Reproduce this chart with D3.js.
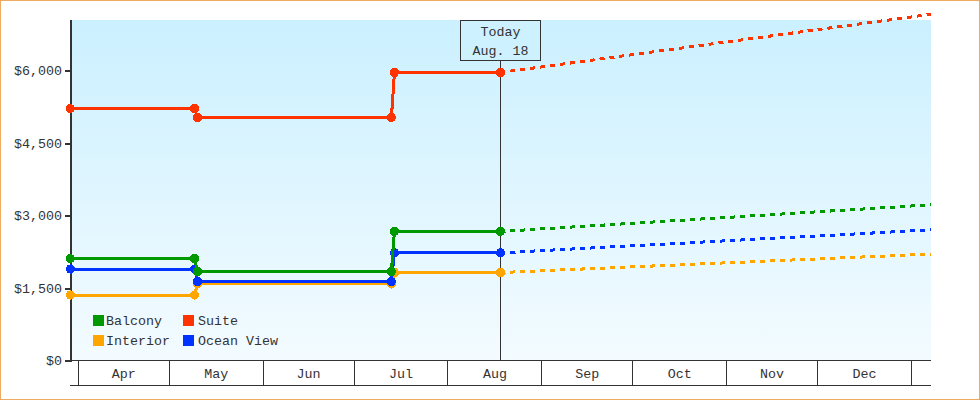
<!DOCTYPE html>
<html><head><meta charset="utf-8">
<script src="https://cdnjs.cloudflare.com/ajax/libs/d3/7.8.5/d3.min.js"></script>
<style>
html,body{margin:0;padding:0;background:#fff}
svg{display:block}
text{font-family:"Liberation Mono",monospace;font-size:13.33px;fill:#333}
</style></head><body>
<svg id="c" width="980" height="400"></svg>
<script>
const actualDates = ["2018-03-29","2018-05-09","2018-05-10","2018-07-13","2018-07-14","2018-08-18"];
const forecastDates = ["2018-08-18","2019-01-08"];
const suiteValues    = [5214,5214,5028,5028,5959,5959];
const balconyValues  = [2110,2110,1841,1841,2670,2670];
const oceanValues    = [1893,1893,1634,1634,2228,2228];
const interiorValues = [1355,1355,1583,1583,1820,1820];
const suiteForecast    = [5959,7170];
const balconyForecast  = [2670,3225];
const oceanForecast    = [2228,2705];
const interiorForecast = [1820,2205];
const seriesNames  = ["Interior","Ocean View","Balcony","Suite"];
const seriesColors = ["#ffa500","#0033ff","#009900","#ff3300"];
const yTicks = [0,1500,3000,4500,6000];
const monthLabels = ["Apr","May","Jun","Jul","Aug","Sep","Oct","Nov","Dec"];
const legendRows = [["Balcony","Suite"],["Interior","Ocean View"]];

const actuals = [interiorValues,oceanValues,balconyValues,suiteValues];
const forecasts = [interiorForecast,oceanForecast,balconyForecast,suiteForecast];
const d = s => new Date(s+"T12:00:00Z");
const svg = d3.select("#c");

const x = d3.scaleUtc().domain([new Date("2018-04-01T00:00:00Z"),new Date("2019-01-01T00:00:00Z")]).range([77.9,910.9]);
const y = d3.scaleLinear().domain([0,6000]).range([360.5,70.5]);

const defs = svg.append("defs");
const g = defs.append("linearGradient").attr("id","bg").attr("x1",0).attr("y1",0).attr("x2",0).attr("y2",1);
g.append("stop").attr("offset",0).attr("stop-color","#cbf0ff");
g.append("stop").attr("offset",1).attr("stop-color","#f3fbff");
defs.append("clipPath").attr("id","cp").append("rect").attr("x",60).attr("y",0).attr("width",871).attr("height",400);

svg.append("rect").attr("x",0.5).attr("y",0.5).attr("width",979).attr("height",399)
  .attr("fill","#fff").attr("stroke","#eeaa60").attr("shape-rendering","crispEdges");
svg.append("rect").attr("x",72).attr("y",20).attr("width",859).attr("height",340).attr("fill","url(#bg)");

svg.append("line").attr("x1",500.5).attr("x2",500.5).attr("y1",60).attr("y2",360)
  .attr("stroke","#333").attr("shape-rendering","crispEdges");

const monthTicks = d3.utcMonth.range(new Date("2018-04-01T00:00:00Z"),new Date("2019-01-02T00:00:00Z"));
const xAxis = svg.append("g").attr("transform","translate(0,360)")
  .call(d3.axisBottom(x).tickValues(monthTicks).tickSize(25).tickFormat(""));
xAxis.select(".domain").remove();
xAxis.selectAll("line").attr("stroke","#333").attr("shape-rendering","crispEdges");
[360.5,385.5].forEach(v=>svg.append("line").attr("x1",70).attr("x2",931).attr("y1",v).attr("y2",v)
  .attr("stroke","#333").attr("shape-rendering","crispEdges"));
svg.append("g").selectAll("text").data(monthLabels).join("text")
  .attr("x",(m,i)=>(x(monthTicks[i])+x(monthTicks[i+1]))/2+0.5).attr("y",378)
  .attr("text-anchor","middle").text(m=>m);

const yAxis = svg.append("g").attr("transform","translate(72,0)")
  .call(d3.axisLeft(y).tickValues(yTicks).tickSize(7).tickPadding(3).tickFormat(v=>"$"+d3.format(",")(v)));
yAxis.select(".domain").remove();
yAxis.selectAll("line").attr("stroke","#333").attr("stroke-width",2).attr("shape-rendering","crispEdges");
yAxis.selectAll("text").attr("font-size",null).style("font-family",'"Liberation Mono",monospace').style("font-size","13.33px").style("fill","#333");
svg.append("rect").attr("x",70).attr("y",20).attr("width",2).attr("height",341).attr("fill","#333");

const line = d3.line().x(p=>x(d(p[0]))).y(p=>y(p[1]));
seriesNames.forEach((n,i)=>{
  const pts = actualDates.map((t,j)=>[t,actuals[i][j]]);
  const fc = forecastDates.map((t,j)=>[t,forecasts[i][j]]);
  svg.append("path").datum(fc).attr("d",line).attr("fill","none").attr("stroke",seriesColors[i])
    .attr("stroke-width",3).attr("stroke-dasharray","5,5").attr("clip-path","url(#cp)").attr("shape-rendering","crispEdges");
  svg.append("path").datum(pts).attr("d",line).attr("fill","none").attr("stroke",seriesColors[i])
    .attr("stroke-width",3).attr("shape-rendering","crispEdges");
  svg.append("g").selectAll("path").data(pts).join("path")
    .attr("transform",p=>`translate(${x(d(p[0]))},${y(p[1])})`)
    .attr("d",d3.symbol(d3.symbolCircle,66)).attr("fill",seriesColors[i]).attr("shape-rendering","crispEdges");
});

svg.append("rect").attr("x",460.5).attr("y",20.5).attr("width",80).attr("height",40)
  .attr("fill","#cdf1ff").attr("stroke","#333").attr("shape-rendering","crispEdges");
svg.append("text").attr("x",500.5).attr("y",36).attr("text-anchor","middle").text("Today");
svg.append("text").attr("x",500.5).attr("y",55).attr("text-anchor","middle").text("Aug. 18");

const colOf = n => seriesColors[seriesNames.indexOf(n)];
legendRows.forEach((row,r)=>row.forEach((n,c)=>{
  svg.append("rect").attr("x",c?183:93).attr("y",315+r*20).attr("width",11).attr("height",11).attr("fill",colOf(n));
  svg.append("text").attr("x",c?198:106).attr("y",325+r*20).text(n);
}));
</script></body></html>
